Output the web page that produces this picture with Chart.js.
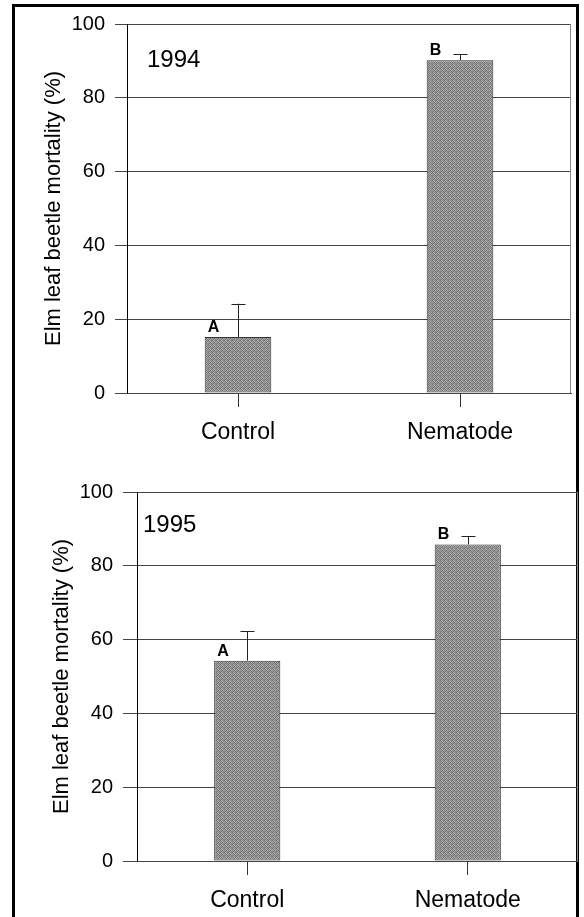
<!DOCTYPE html>
<html>
<head>
<meta charset="utf-8">
<script src="https://cdn.jsdelivr.net/npm/chart.js@4.4.1/dist/chart.umd.min.js"></script>
<style>
  body { margin: 0; background: #fff; width: 584px; height: 917px; overflow: hidden; position: relative; }
  #frame { position: absolute; left: 12px; top: 4px; width: 561px; height: 940px; border: 3px solid #000; border-bottom: none; }
  canvas { position: absolute; left: 0; }
</style>
</head>
<body>
<div id="frame"></div>
<canvas id="c94" width="584" height="460" style="top:0"></canvas>
<canvas id="c95" width="584" height="457" style="top:460px"></canvas>
<script>
const categories = ['Control', 'Nematode'];
const yTicks = [0, 20, 40, 60, 80, 100];

const mortality1994 = [15.2, 90.2];
const se1994 = [9.0, 1.7];
const letters1994 = ['A', 'B'];

const mortality1995 = [54.3, 85.8];
const se1995 = [8.0, 2.3];
const letters1995 = ['A', 'B'];

const FONT = '"Liberation Sans", Arial, sans-serif';

// grainy grey fill like the scanned bars
function barPattern() {
  const shades = ['#6a6a6a', '#b2b2b2', '#808080', '#a0a0a0',
                  '#a8a8a8', '#767676', '#bcbcbc', '#707070',
                  '#848484', '#aaaaaa', '#666666', '#b6b6b6',
                  '#9c9c9c', '#727272', '#a4a4a4', '#7a7a7a'];
  const c = document.createElement('canvas');
  c.width = 4; c.height = 4;
  const g = c.getContext('2d');
  shades.forEach((s, i) => { g.fillStyle = s; g.fillRect(i % 4, Math.floor(i / 4), 1, 1); });
  return g.createPattern(c, 'repeat');
}

// error bars, letters, year label and right plot border
const extras = {
  id: 'extras',
  afterDatasetsDraw(chart, args, opts) {
    const { ctx, chartArea } = chart;
    const y = chart.scales.y;
    const meta = chart.getDatasetMeta(0);
    ctx.save();
    ctx.strokeStyle = '#888';
    ctx.lineWidth = 1;
    ctx.beginPath();
    ctx.moveTo(Math.round(chartArea.right) - 0.5, chartArea.top);
    ctx.lineTo(Math.round(chartArea.right) - 0.5, chartArea.bottom);
    ctx.stroke();

    meta.data.forEach((bar, i) => {
      const top = y.getPixelForValue(opts.means[i] + opts.errors[i]);
      const x = Math.round(bar.x) + 0.5;
      ctx.strokeStyle = '#222';
      ctx.beginPath();
      ctx.moveTo(x, bar.y);
      ctx.lineTo(x, top);
      ctx.moveTo(x - 7, Math.round(top) + 0.5);
      ctx.lineTo(x + 7, Math.round(top) + 0.5);
      ctx.stroke();
      ctx.fillStyle = '#000';
      ctx.font = 'bold 16px ' + FONT;
      ctx.textAlign = 'left';
      ctx.textBaseline = 'alphabetic';
      ctx.fillText(opts.letters[i], bar.x - bar.width / 2 + 3, bar.y - 5);
    });

    ctx.font = '24px ' + FONT;
    ctx.textBaseline = 'middle';
    ctx.fillText(opts.year, chartArea.left + opts.yearDx, chartArea.top + opts.yearDy);
    ctx.restore();
  }
};

function makeChart(id, year, means, errors, letters, box) {
  return new Chart(document.getElementById(id), {
    type: 'bar',
    data: {
      labels: categories,
      datasets: [{
        data: means,
        backgroundColor: barPattern(),
        borderColor: '#333',
        borderWidth: 1,
        borderSkipped: false,
        barPercentage: 0.3,
        categoryPercentage: 1
      }]
    },
    options: {
      responsive: false,
      devicePixelRatio: 1,
      animation: false,
      layout: { padding: { left: 0, top: box.top, right: box.right, bottom: 0 } },
      plugins: {
        legend: { display: false },
        tooltip: { enabled: false },
        extras: { year, means, errors, letters, yearDx: box.yearDx, yearDy: box.yearDy }
      },
      scales: {
        x: {
          grid: { drawOnChartArea: false, offset: false, tickLength: 14, color: '#333' },
          border: { color: '#444' },
          ticks: { font: { family: FONT, size: 23 }, color: '#000', padding: 12 },
          afterFit: s => { s.height = box.xHeight; }
        },
        y: {
          min: 0,
          max: 100,
          afterBuildTicks: s => { s.ticks = yTicks.map(v => ({ value: v })); },
          grid: { color: '#444', tickLength: box.tick },
          border: { color: '#000' },
          ticks: { font: { family: FONT, size: 20 }, color: '#000', padding: 10 },
          title: {
            display: true,
            text: 'Elm leaf beetle mortality (%)',
            font: { family: FONT, size: 22 },
            color: '#000',
            padding: { top: box.titlePad, bottom: 0 }
          },
          afterFit: s => { s.width = box.yWidth; }
        }
      }
    },
    plugins: [extras]
  });
}

makeChart('c94', '1994', mortality1994, se1994, letters1994,
  { top: 24, right: 13, xHeight: 67, yWidth: 127, tick: 12, titlePad: 41, yearDx: 20, yearDy: 36 });
makeChart('c95', '1995', mortality1995, se1995, letters1995,
  { top: 32, right: 6, xHeight: 56, yWidth: 137, tick: 14, titlePad: 49, yearDx: 6, yearDy: 33 });
</script>
</body>
</html>
